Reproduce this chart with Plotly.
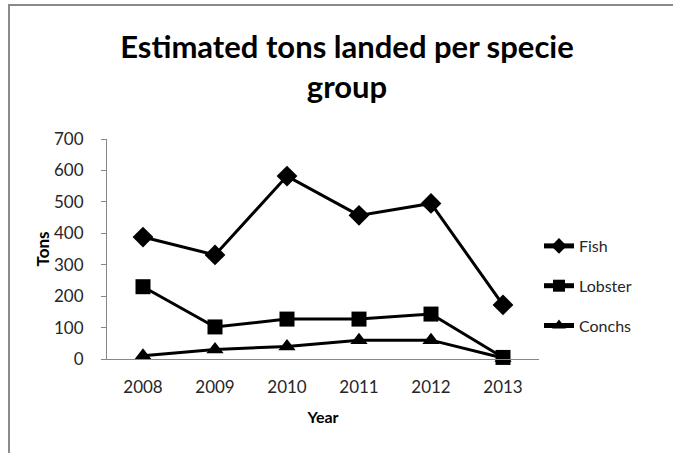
import plotly.graph_objects as go

# Estimated landings by species group, in tons
years = [2008, 2009, 2010, 2011, 2012, 2013]
fish = [388, 331, 582, 457, 495, 172]
lobster = [230, 102, 127, 127, 143, 5]
conchs = [10, 30, 40, 60, 60, 3]

series = [
    ("Fish", fish, "diamond"),
    ("Lobster", lobster, "square"),
    ("Conchs", conchs, "triangle-up"),
]

FONT = "Lato, Carlito, 'Open Sans', sans-serif"
AXIS_GRAY = "#878787"
TEXT = "#262626"

fig = go.Figure()
for i, (name, vals, sym) in enumerate(series):
    fig.add_trace(go.Scatter(
        x=years, y=vals, name=name, mode="lines+markers",
        legendgroup=f"g{i}",
        line=dict(color="black", width=3),
        marker=dict(symbol=sym, size=15 if sym != "diamond" else 16, color="black"),
        cliponaxis=False,
    ))

# chart-area border on the left and top edges, in paper units;
# the top edge runs on past the right side of the page
left = (9 - 107) / 432
right = (760 - 107) / 432
top = 1 + (139 - 5) / 220
bottom = -(470 - 359) / 220
border_path = f"M {left},{bottom} L {left},{top} L {right},{top}"

fig.update_layout(
    width=673, height=453,
    margin=dict(l=107, r=134, t=139, b=94),
    paper_bgcolor="white", plot_bgcolor="white",
    font=dict(family=FONT, color=TEXT, size=17),
    title=dict(
        text="<b>Estimated tons landed per specie<br>group</b>",
        x=347 / 673, xref="container", xanchor="center",
        y=1 - 58 / 453, yref="container", yanchor="middle",
        font=dict(family=FONT, size=31, color="black"),
    ),
    showlegend=True,
    legend=dict(
        x=1.0, xanchor="left", y=(359 - 286) / 220, yanchor="middle",
        font=dict(family=FONT, size=16, color=TEXT),
        tracegroupgap=16, itemsizing="constant",
        bgcolor="rgba(0,0,0,0)",
    ),
    xaxis=dict(
        range=[2007.5, 2013.5], tickmode="array", tickvals=years,
        ticktext=[str(y) for y in years],
        showline=True, linecolor=AXIS_GRAY, linewidth=1,
        showgrid=False, zeroline=False, ticks="",
        ticklabelstandoff=13,
        title=dict(text="<b>Year</b>", font=dict(family=FONT, size=16, color="black"), standoff=15),
    ),
    yaxis=dict(
        range=[0, 700], dtick=100,
        showline=True, linecolor=AXIS_GRAY, linewidth=1,
        ticks="outside", ticklen=5, tickcolor=AXIS_GRAY,
        ticklabelstandoff=14,
        showgrid=False, zeroline=False,
        title=dict(text="<b>Tons</b>", font=dict(family=FONT, size=17, color="black"), standoff=0),
    ),
    shapes=[
        dict(type="path", xref="paper", yref="paper", path=border_path,
             line=dict(color="#8a8a8a", width=2), fillcolor="rgba(0,0,0,0)"),
    ],
)

fig.write_html("out.html", config={"displayModeBar": False})
